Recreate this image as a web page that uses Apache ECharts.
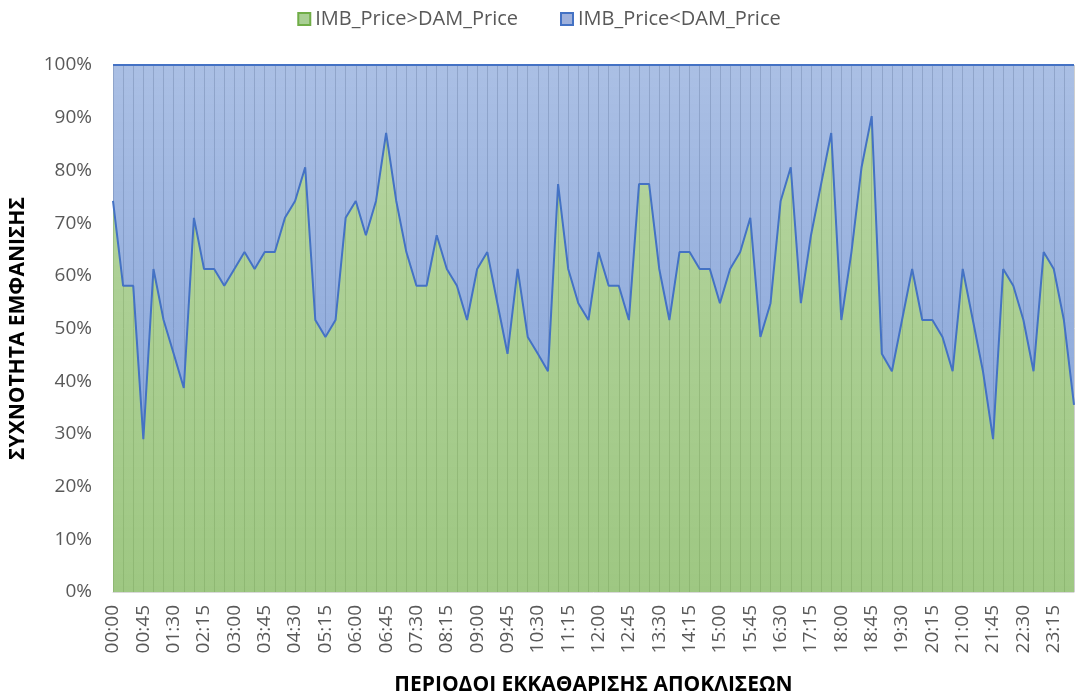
<!DOCTYPE html>
<html>
<head>
<meta charset="utf-8">
<script src="https://cdn.jsdelivr.net/npm/echarts@6/dist/echarts.min.js"></script>
<style>
  html, body { margin: 0; padding: 0; background: #fff; }
  #chartbox { width: 1078px; height: 694px; }
</style>
</head>
<body>
<div id="chartbox"></div>
<script>
// settlement periods, every 15 min
var periods = [];
for (var h = 0; h < 24; h++) {
    for (var m = 0; m < 60; m += 15) {
        periods.push((h < 10 ? "0" : "") + h + ":" + (m < 10 ? "0" : "") + m);
    }
}

// share of days (%) with IMB_Price > DAM_Price
var imbAbove = [
    74.2, 58.1, 58.1, 29.0, 61.3, 51.6, 45.2, 38.7, 71.0, 61.3,
    61.3, 58.1, 61.3, 64.5, 61.3, 64.5, 64.5, 71.0, 74.2, 80.6,
    51.6, 48.4, 51.6, 71.0, 74.2, 67.7, 74.2, 87.1, 74.2, 64.5,
    58.1, 58.1, 67.7, 61.3, 58.1, 51.6, 61.3, 64.5, 54.8, 45.2,
    61.3, 48.4, 45.2, 41.9, 77.4, 61.3, 54.8, 51.6, 64.5, 58.1,
    58.1, 51.6, 77.4, 77.4, 61.3, 51.6, 64.5, 64.5, 61.3, 61.3,
    54.8, 61.3, 64.5, 71.0, 48.4, 54.8, 74.2, 80.6, 54.8, 67.7,
    77.4, 87.1, 51.6, 64.5, 80.6, 90.3, 45.2, 41.9, 51.6, 61.3,
    51.6, 51.6, 48.4, 41.9, 61.3, 51.6, 41.9, 29.0, 61.3, 58.1,
    51.6, 41.9, 64.5, 61.3, 51.6, 35.5
];

// share of days (%) with IMB_Price < DAM_Price
var imbBelow = [
    25.8, 41.9, 41.9, 71.0, 38.7, 48.4, 54.8, 61.3, 29.0, 38.7,
    38.7, 41.9, 38.7, 35.5, 38.7, 35.5, 35.5, 29.0, 25.8, 19.4,
    48.4, 51.6, 48.4, 29.0, 25.8, 32.3, 25.8, 12.9, 25.8, 35.5,
    41.9, 41.9, 32.3, 38.7, 41.9, 48.4, 38.7, 35.5, 45.2, 54.8,
    38.7, 51.6, 54.8, 58.1, 22.6, 38.7, 45.2, 48.4, 35.5, 41.9,
    41.9, 48.4, 22.6, 22.6, 38.7, 48.4, 35.5, 35.5, 38.7, 38.7,
    45.2, 38.7, 35.5, 29.0, 51.6, 45.2, 25.8, 19.4, 45.2, 32.3,
    22.6, 12.9, 48.4, 35.5, 19.4, 9.7, 54.8, 58.1, 48.4, 38.7,
    48.4, 48.4, 51.6, 58.1, 38.7, 48.4, 58.1, 71.0, 38.7, 41.9,
    48.4, 58.1, 35.5, 38.7, 48.4, 64.5
];

var yTicks = [0, 10, 20, 30, 40, 50, 60, 70, 80, 90, 100];

var fontName = "'Open Sans', 'Noto Sans', sans-serif";
var myChart = echarts.init(document.getElementById("chartbox"));

var option = {
    animation: false,
    textStyle: { fontFamily: fontName },
    legend: {
        top: 4,
        left: "center",
        itemGap: 42,
        itemWidth: 12,
        itemHeight: 12,
        textStyle: { color: "#595959", fontSize: 20, fontFamily: fontName },
        data: [
            { name: "IMB_Price>DAM_Price", icon: "rect",
              itemStyle: { color: "#a9cf94", borderColor: "#70ad47", borderWidth: 2 } },
            { name: "IMB_Price<DAM_Price", icon: "rect",
              itemStyle: { color: "#9fb1dc", borderColor: "#4472c4", borderWidth: 2 } }
        ]
    },
    grid: {
        left: 113,
        right: 4,
        top: 65,
        bottom: 102,
        outerBoundsMode: "none"
    },
    xAxis: {
        type: "category",
        boundaryGap: false,
        data: periods,
        name: "ΠΕΡΙΟΔΟΙ ΕΚΚΑΘΑΡΙΣΗΣ ΑΠΟΚΛΙΣΕΩΝ",
        nameLocation: "middle",
        nameGap: 83,
        nameTextStyle: { color: "#000", fontSize: 21, fontWeight: "bold", fontFamily: fontName },
        axisLine: { show: true, lineStyle: { color: "#d9d9d9" } },
        axisTick: { show: false },
        axisLabel: {
            interval: 2,
            rotate: 90,
            color: "#595959",
            fontSize: 19,
            margin: 13,
            fontFamily: fontName
        },
        splitLine: {
            show: true,
            interval: 0,
            lineStyle: { color: "#cfcfcf", width: 1 }
        }
    },
    yAxis: {
        type: "value",
        min: 0,
        max: 100,
        interval: 10,
        name: "ΣΥΧΝΟΤΗΤΑ ΕΜΦΑΝΙΣΗΣ",
        nameLocation: "middle",
        nameGap: 84,
        nameTextStyle: { color: "#000", fontSize: 21, fontWeight: "bold", fontFamily: fontName },
        axisLine: { show: false },
        axisTick: { show: false },
        axisLabel: {
            color: "#595959",
            fontSize: 19,
            margin: 21,
            fontFamily: fontName,
            formatter: function (v) {
                return yTicks.indexOf(v) >= 0 ? v + "%" : "";
            }
        },
        splitLine: { show: false }
    },
    series: [
        {
            name: "IMB_Price>DAM_Price",
            type: "line",
            stack: "total",
            symbol: "none",
            lineStyle: { color: "#4472c4", width: 2 },
            itemStyle: { color: "#a9cf94" },
            areaStyle: {
                color: new echarts.graphic.LinearGradient(0, 0, 0, 1, [
                    { offset: 0, color: "rgba(112,173,71,0.52)" },
                    { offset: 1, color: "rgba(112,173,71,0.68)" }
                ]),
                opacity: 1
            },
            data: imbAbove
        },
        {
            name: "IMB_Price<DAM_Price",
            type: "line",
            stack: "total",
            symbol: "none",
            lineStyle: { color: "#4472c4", width: 2 },
            itemStyle: { color: "#9fb1dc" },
            areaStyle: {
                color: new echarts.graphic.LinearGradient(0, 0, 0, 1, [
                    { offset: 0, color: "rgba(68,114,196,0.45)" },
                    { offset: 1, color: "rgba(68,114,196,0.62)" }
                ]),
                opacity: 1
            },
            data: imbBelow
        }
    ]
};
option && myChart.setOption(option);
window.addEventListener("resize", function () {
    myChart.resize();
});
</script>
</body>
</html>
